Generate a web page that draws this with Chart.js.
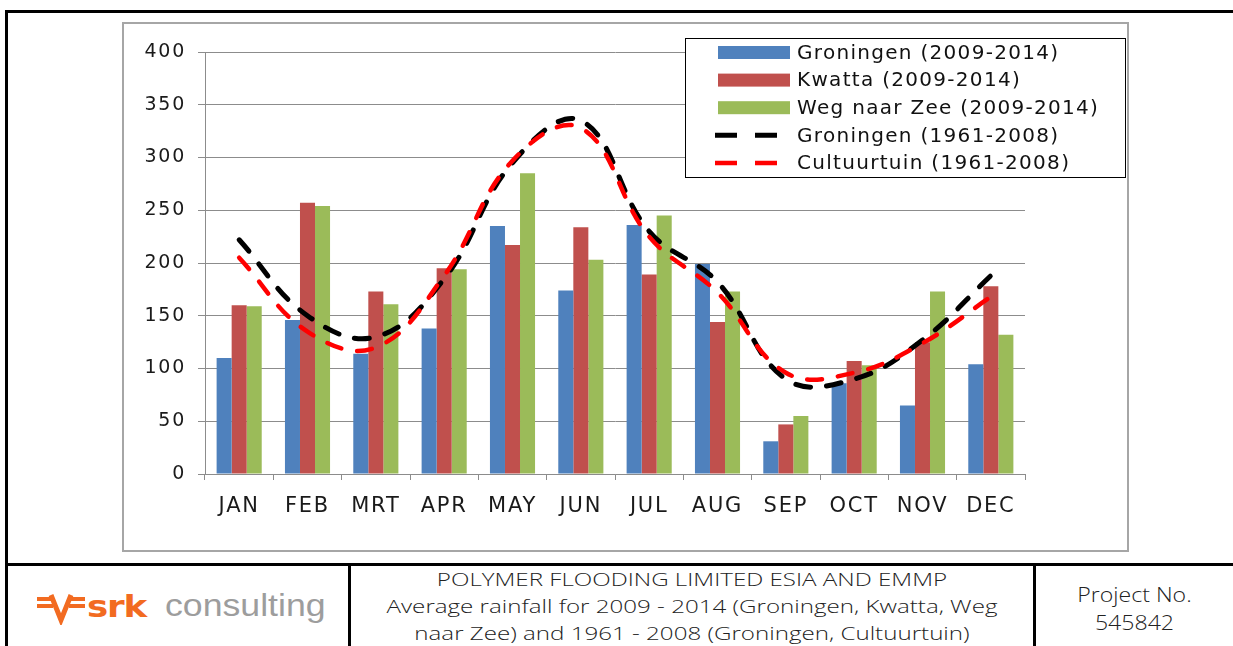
<!DOCTYPE html>
<html>
<head>
<meta charset="utf-8">
<title>Average rainfall</title>
<script src="https://cdn.jsdelivr.net/npm/chart.js@4.4.1/dist/chart.umd.min.js"></script>
<style>
  body { margin: 0; background: #fff; }
  #page { position: relative; width: 1233px; height: 646px; overflow: hidden; background: #fff; }
  .line { position: absolute; background: #000; }
  #frame { position: absolute; left: 122px; top: 22px; width: 1003px; height: 526px; border: 2px solid #a6a6a6; }
  #frame canvas { display: block; }
  .cell { position: absolute; top: 566px; height: 80px; color: #222; text-align: center; }
  #title { left: 351px; width: 682px; font-family: "Open Sans", sans-serif; font-weight: 300; font-size: 19px; line-height: 27px; transform: scaleX(1.27); }
  #project { left: 1036px; width: 197px; font-family: "Open Sans", sans-serif; font-weight: 300; font-size: 21px; line-height: 28px; padding-top: 14px; transform: scaleX(1.1); }
  #logo { position: absolute; left: 37px; top: 588px; height: 40px; white-space: nowrap; }
  #logo svg { position: absolute; left: 0; top: 5px; }
  #logo .srk { position: absolute; left: 50px; top: 0; font-family: "DejaVu Sans", sans-serif; font-weight: bold; font-size: 31px; color: #f26b21; transform: scaleX(1.15); transform-origin: left; letter-spacing: -1px; }
  #logo .cons { position: absolute; left: 128px; top: 0; font-family: "Liberation Sans", sans-serif; font-size: 31px; color: #9d9d9d; transform: scaleX(1.15); transform-origin: left; }
</style>
</head>
<body>
<div id="page">
  <div class="line" style="left:5px; top:10px; width:1228px; height:3px;"></div>
  <div class="line" style="left:5px; top:10px; width:3px; height:636px;"></div>
  <div id="frame"><canvas id="rainChart" width="1003" height="526"></canvas></div>

  <div class="line" style="left:5px; top:563px; width:1228px; height:3px;"></div>
  <div class="line" style="left:348px; top:563px; width:3px; height:83px;"></div>
  <div class="line" style="left:1033px; top:563px; width:3px; height:83px;"></div>

  <div id="logo">
    <svg width="50" height="32" viewBox="0 0 50 32">
      <path d="M0 6 H14 M0 13 H16 M34 6 H48 M32 13 H48" stroke="#f26b21" stroke-width="4" fill="none"/>
      <path d="M14 2 L24 27 L34 2" stroke="#f26b21" stroke-width="5" fill="none" stroke-linejoin="miter"/>
    </svg>
    <span class="srk">srk</span>
    <span class="cons">consulting</span>
  </div>
  <div class="cell" id="title">POLYMER FLOODING LIMITED ESIA AND EMMP<br>Average rainfall for 2009 - 2014 (Groningen, Kwatta, Weg<br>naar Zee) and 1961 - 2008 (Groningen, Cultuurtuin)</div>
  <div class="cell" id="project">Project No.<br>545842</div>
</div>

<script>
// maanden op de x-as
const months = ['JAN', 'FEB', 'MRT', 'APR', 'MAY', 'JUN', 'JUL', 'AUG', 'SEP', 'OCT', 'NOV', 'DEC'];

// neerslag 2009-2014 (staven)
const groningen0914 = [110, 146, 114, 138, 235, 174, 236, 199, 31, 86, 65, 104];
const kwatta0914 = [160, 257, 173, 195, 217, 234, 189, 144, 47, 107, 125, 178];
const wegNaarZee0914 = [159, 254, 161, 194, 285, 203, 245, 173, 55, 103, 173, 132];

// langjarig gemiddelde 1961-2008 (lijnen)
const groningen6108 = [222, 150, 130, 185, 295, 335, 230, 182, 90, 90, 127, 188];
const cultuurtuin6108 = [205, 135, 120, 188, 297, 328, 225, 172, 96, 96, 124, 168];

// y-as
const yMin = 0;
const yMax = 400;
const yStep = 50;

const gridGray = '#8c8c8c';

// eigen legenda, zoals in Excel
const legendBox = {
    id: 'legendBox',
    beforeDraw(chart) {
        chart.ctx.letterSpacing = '1.75px';
    },
    afterDraw(chart) {
        const ctx = chart.ctx;
        ctx.save();
        ctx.letterSpacing = '1.3px';
        ctx.fillStyle = '#fff';
        ctx.fillRect(561, 14, 440, 139);
        ctx.strokeStyle = '#000';
        ctx.lineWidth = 1;
        ctx.strokeRect(561.5, 14.5, 440, 139);
        chart.data.datasets.forEach(function (ds, i) {
            const y = 28.5 + i * 27.6;
            if (ds.type === 'line') {
                ctx.setLineDash([22, 18]);
                ctx.strokeStyle = ds.borderColor;
                ctx.lineWidth = ds.borderWidth;
                ctx.beginPath();
                ctx.moveTo(591, y);
                ctx.lineTo(655, y);
                ctx.stroke();
                ctx.setLineDash([]);
            } else {
                ctx.fillStyle = ds.backgroundColor;
                ctx.fillRect(594, y - 6.5, 72, 13);
            }
            ctx.fillStyle = '#111';
            ctx.font = '20px "DejaVu Sans"';
            ctx.textBaseline = 'middle';
            ctx.textAlign = 'left';
            ctx.fillText(ds.label, 673, y + 1);
        });
        ctx.restore();
    }
};

const ctx = document.getElementById('rainChart').getContext('2d');
const chart = new Chart(ctx, {
    type: 'bar',
    data: {
        labels: months,
        datasets: [{
            label: 'Groningen (2009-2014)',
            data: groningen0914,
            backgroundColor: '#4f81bd',
            order: 2
        }, {
            label: 'Kwatta (2009-2014)',
            data: kwatta0914,
            backgroundColor: '#c0504d',
            order: 2
        }, {
            label: 'Weg naar Zee (2009-2014)',
            data: wegNaarZee0914,
            backgroundColor: '#9bbb59',
            order: 2
        }, {
            type: 'line',
            label: 'Groningen (1961-2008)',
            data: groningen6108,
            borderColor: '#000',
            borderWidth: 5,
            borderDash: [15, 16],
            borderCapStyle: 'round',
            tension: 0.4,
            pointRadius: 0,
            fill: false,
            order: 1
        }, {
            type: 'line',
            label: 'Cultuurtuin (1961-2008)',
            data: cultuurtuin6108,
            borderColor: '#ff0000',
            borderWidth: 4.5,
            borderDash: [15, 16],
            borderCapStyle: 'round',
            tension: 0.4,
            pointRadius: 0,
            fill: false,
            order: 0
        }]
    },
    options: {
        responsive: false,
        animation: false,
        devicePixelRatio: 1,
        categoryPercentage: 0.66,
        barPercentage: 1.0,
        layout: {
            padding: { top: 28, right: 102, bottom: 0, left: 0 }
        },
        plugins: {
            legend: { display: false },
            tooltip: { enabled: false }
        },
        scales: {
            x: {
                offset: true,
                grid: {
                    offset: true,
                    drawOnChartArea: false,
                    drawTicks: true,
                    tickLength: 6,
                    color: gridGray
                },
                border: { color: gridGray, width: 1 },
                ticks: {
                    color: '#1a1a1a',
                    padding: 14,
                    maxRotation: 0,
                    font: { family: 'DejaVu Sans', size: 21 }
                },
                afterFit: function (scale) { scale.height = 76; }
            },
            y: {
                min: yMin,
                max: yMax,
                grid: {
                    color: gridGray,
                    tickLength: 7
                },
                border: { color: gridGray, width: 1 },
                ticks: {
                    stepSize: yStep,
                    color: '#1a1a1a',
                    padding: 12,
                    font: { family: 'DejaVu Sans', size: 19 }
                },
                afterFit: function (scale) { scale.width = 81; }
            }
        }
    },
    plugins: [legendBox]
});
</script>
</body>
</html>
